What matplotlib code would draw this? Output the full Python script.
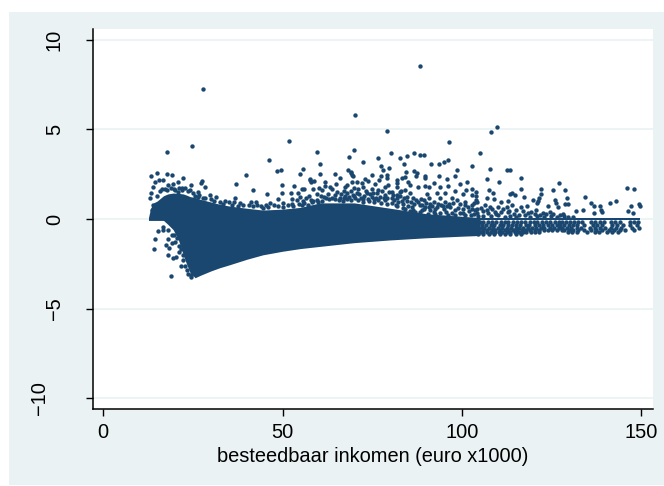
import matplotlib
matplotlib.use("Agg")
import matplotlib.pyplot as plt
from matplotlib.patches import Rectangle

plt.rcParams['font.family'] = ['Liberation Sans', 'DejaVu Sans']

NAVY = '#1a476f'
BG = '#eaf2f3'

x_ticks = [0, 50, 100, 150]
y_ticks = [-10, -5, 0, 5, 10]
x_label = 'besteedbaar inkomen (euro x1000)'

band_x = [12.6, 13.2, 14, 15, 16.8, 18, 19.5, 21, 22.3, 23, 24.2, 25.6, 27, 30, 32.5, 35.3, 40, 44.5, 50, 55, 60.4, 70, 80, 90, 100, 105]
band_low = [-.08, -.08, -.08, -.08, -.08, -.3, -.6, -1.2, -2.0, -2.4, -3.0, -3.28, -3.15, -2.9, -2.72, -2.55, -2.25, -2.0, -1.8, -1.65, -1.53, -1.32, -1.17, -1.05, -.96, -.92]
band_high = [.08, .6, .9, 1.0, 1.3, 1.4, 1.45, 1.43, 1.4, 1.35, 1.25, 1.2, 1.1, .95, .82, .72, .6, .5, .55, .65, .9, .9, .6, .3, .15, .08]

# Run of observations exactly at zero on the right
zero_x = [104, 149.8]
zero_low = [-.08, -.08]
zero_high = [.08, .08]

# Individually visible observations above the mass
upper_points = [
 (27.9,7.26),(70.2,5.83),(51.7,4.37),(24.7,4.08),(17.9,3.74),(59.6,3.72),(69.8,3.87),(68.4,3.46),(46.1,3.31),(76.6,3.39),
 (72.5,3.2),(60.5,3.05),(55.8,2.79),(48.5,2.68),(49.6,2.72),(54.9,2.53),(60.4,2.53),(64.6,2.5),(68.3,2.72),(69.1,2.55),
 (69.5,2.42),(74.9,2.46),(39.8,2.48),(15.1,2.57),(13.4,2.4),(17.8,2.5),(19.1,2.48),(22.3,2.31),(66,2.29),(57.7,2.22),(73,2.22),
 (88.4,8.55),(79,4.93),(109.7,5.12),(108.1,4.84),(96.5,4.28),(80.2,3.7),(86.6,3.67),(105,3.67),(84.8,3.52),(88.4,3.56),(89.3,3.56),
 (82.8,3.39),(96,3.31),(95,3.2),(91.3,3.09),(93.5,3.05),(83.9,3.07),(77.4,2.94),(77.9,2.75),(79.8,2.85),(102.8,2.96),(107.8,2.79),
 (98.7,2.74),(112.5,2.74),(113.4,2.72),(86.6,2.7),(87.5,2.59),(84.4,2.63),(89.7,2.42),(93.5,2.42),(98.2,2.4),(87.3,2.38),(77.5,2.38),
 (79,2.46),(83.3,2.29),(84.2,2.33),(79.1,2.27),(89.7,2.27),(116.5,2.29),(106.9,2.23),(95.8,2.22),(81.8,2.2),(76.8,2.18),
 (110.4,2.07),(127.1,1.99),(102.8,1.66),(104,1.53),(107.6,1.62),(108.8,1.47),(116.5,1.66),(122.1,1.66),(125.4,1.62),(128.7,1.6),
 (146.1,1.73),(147.9,1.69),(102.8,1.34),(104,1.3),(113.3,1.38),(114,1.44),(114.8,1.34),(122.1,1.4),(134.4,1.23),(106.9,1.16),(109,1.13),
 (117.2,1.21),(121.6,1.16),(119.9,1.08),(120.9,.91),(121.2,1.02),(126,1.06),(126.3,.91),(129.2,1.16),(128.8,.84),(129.7,.84),(142.9,1.01),
 (136,.88),(136.9,.73),(138.4,.71),(141.3,.88),(149.4,.82),(149.8,.73),(147.3,.74),(146.4,.46),(147.8,.35),(131.9,.45),(133.7,.52),
 (136.9,.32),(138.7,.5),(139.1,.37),(124,.73),(126.9,.69),(118.3,.73),(116.4,.65),(112.8,.99),(110.8,.97),(107.9,.65),(108.3,.54),
 (110.2,.69),(111.6,.54),(112.5,.65),(113.9,.78),(109.3,.41),(119.3,.37),(122.6,.32),(125.5,.26),(127.4,.22),(129.7,.13),(116,.21),
 (114.4,.28),(107.4,.35),(103.7,.5),(104.2,.35),(102.8,.78),(103.4,.91),(104.2,.93),
 (14.3,2.05),(15.6,2.18),(16.6,2.15),(27.6,2.13),(27.2,2.0),(28.4,1.77),(24.5,1.9),(26.5,1.53),(18.1,1.9),(19.5,1.94),(20.7,2.09),
 (14,1.81),(17.2,1.68),(20,1.62),(21.9,1.72),(22.8,1.75),(24.2,1.62),(13.3,1.44),(13,1.16),(13.8,.79),(13.5,.51),(29.8,1.34),(31.4,1.25),
 (27.9,1.16),(33.9,1.03),(26.5,1.25),(25.1,1.44),(20.9,1.53),
 (37,1.93),(41.8,1.62),(45.7,1.39),(49.7,1.88),(53.2,1.84),(49.9,1.45),(52.3,1.43),(55.3,1.67),(56,1.67),(48.6,1.13),(52.7,1.11),(54.4,1.43),
 (54.8,1.24),(53.9,1.06),(55.6,1.02),(57.6,2.17),(58.8,2.12),(57.8,2.04),(57.4,1.28),(58.5,1.65),(60.1,1.71),(59.7,1.39),(58.1,.93),(59.7,1.06),
 (36.6,1.15),(36.5,.96),(41.3,.96),(42.6,.96),(46.6,.91),(38.1,.87),(43.9,.72),(50.2,.87),(52.5,.83),(55.3,.78),(45.5,.78),
 (69,2.64),(69.4,2.45),(61.7,2.08),(64.8,1.93),(67.9,1.89),(69.3,2.04),(70.7,2.08),(73.7,2.12),(72.1,1.99),(75.8,1.93),(79.5,1.9),(81.8,2),
 (81.8,1.76),(61.8,1.84),(63.2,1.8),(63.9,1.65),(67.4,1.76),(67.1,1.58),(69.8,1.71),(71.1,1.65),(72.5,1.8),(74.9,1.65),(78.6,1.76),(76.7,1.62),
 (80.4,1.52),(82.8,1.52),(60.9,1.62),(67.9,1.43),(69.6,1.34),(71.4,1.39),(73.5,1.43),(76.3,1.43),(78.6,1.34),(81.8,1.34),(80.4,1.15),(76.7,1.06),
 (64.6,1.34),(74.9,1.24),(70.2,1.15),(72.5,.96),(78.6,1.06),(82.3,.96),(62,1.15),(65.8,1.05),(68,1.12),(73.8,1.1),(61,1.0),(66.8,.98),(75.5,.95),
 (85.1,2.08),(85.5,1.9),(87.9,1.76),(89.7,1.84),(92.1,2),(90.7,1.76),(93.9,1.76),(96.1,1.84),(99.5,1.95),(101.5,2.08),(84.2,1.62),(83,1.58),
 (93,1.47),(90.2,1.39),(95.3,1.47),(98.1,1.58),(101.2,1.62),(100.2,1.39),(85.5,1.43),(87.1,1.06),(89.5,1.06),(93.9,1.15),(97.2,1.15),(98.6,1.06),
 (92.1,.96),(95.3,.96),(100.9,.96),(104,1.06),(84.6,1.24),(90.7,1.15),(88.3,.78),(93,.68),(96.7,.68),(99,.59),(101.8,.65),(104.2,.54),(86,.68),
 (90.7,.68),(94.9,.54),(88.3,.4),(92.1,.4),(97.2,.35),(100.4,.31),(89.3,.54),(83.5,.85),(85,.7),(81.5,.8),(84,.55),(86.5,.5),(91,.5),(95.5,.4),
 # edge of the mass
 (15,1.3),(15.8,1.55),(16.5,1.7),(17.8,1.62),(18.8,1.75),(19.8,1.7),(21,1.75),(22,1.6),(23.5,1.55),(25.5,1.3),(26.8,1.35),(28.5,1.15),
 (30,1.1),(31,1.02),(32.5,.95),(33.5,.85),(35,.95),(36,.8),(37.5,.72),(39,.8),(40.5,.78),(41.8,.7),(43,.78),(44.5,.62),(46,.68),(47.5,.78),
 (48.8,.72),(50,.68),(51.5,.8),(53,.72),(54.5,.85),(56,.9),(57,.78),(58.5,.98),(60,.95),(61.5,1.25),(63,1.1),(64.5,1.12),(66,1.2),(67.5,1.3),
 (69,1.05),(71,1.05),(72.5,1.12),(74,1.0),(75.5,1.1),(77.5,.9),(79,.85),(80.5,.9),(82,.7),(83.5,.62),(85.5,.42),(87,.38),(88.8,.52),(90.5,.3),
 (92.5,.28),(94,.32),(96,.25),(98,.22),(99.5,.35),(101,.2),(102.5,.22),(104.5,.18),(106,.15),(108,.15),(110,.22),(112,.12),(113.5,.15),(115,.12),
 (117.5,.2),(119,.12),(121,.15),(123,.12),(124.8,.18),(126.5,.12),(128.5,.15),(131,.12),
 # crowded zone just above the mass, middle of the income range
 (56.5,1.15),(57.8,1.05),(60.8,1.28),(62.8,1.38),(63.8,1.2),(65.3,1.5),(66.2,1.38),(67,1.2),(68.4,1.22),(69,1.55),(70,1.3),(70.8,1.45),
 (71.8,1.2),(72.8,1.3),(73.2,1.55),(74.3,1.38),(75.2,1.45),(76,1.2),(77.3,1.22),(77.8,1.55),(78.2,1.15),(79.2,1.2),(79.6,1.48),(80.8,1.35),
 (81.2,1.05),(82,1.15),(82.8,1.28),(83.2,1.0),(83.8,1.18),(84.8,1.0),(85.8,.95),(86.3,1.18),(86.6,.85),(87.8,.95),(88.5,1.12),(89,.8),
 (89.6,.68),(90,.92),(91.2,.85),(91.8,.72),(92.6,.58),(93.4,.85),(94.3,.8),(94.8,.72),(95.8,.72),(96.3,.85),(97.6,.88),(98.2,.5),(99.5,.82),
 (100.2,.55),(101,.78),(102,.42),(102.8,.55),(103.3,.3),(105.2,.62),(105.8,.42),(106.4,.78),(107,.5),(109.6,.28),(111,.38),(112.8,.38),
 (113.2,.45),(115.2,.48),(117,.42),(118.4,.32),(120.4,.3),(120.8,.48),(121.8,.22),(123.5,.28),(124.5,.38),(128.2,.3),
]

# Individually visible observations left of and below the mass
lower_points = [
 (18.8,-3.21),(14.1,-1.66),(14.4,-1.14),(15.3,-.66),(16.7,-.62),(17.4,-1.47),(18.1,-2.01),(19.5,-2.16),(20.3,-2.14),(21.6,-2.61),(21.2,-1.87),
 (18.3,-1.64),(19.1,-1.36),(18,-1.14),(20,-1.27),(16.7,-.43),(18.1,-.62),(19.1,-.9),(22.3,-2),(24.5,-3.22),(23.3,-2.85),
 (19.8,-.9),(20.5,-1.05),(21,-1.5),(21.8,-1.7),(22.2,-2.3),(22.8,-2.6),(23.6,-3.05),(24.4,-3.15),
]

# Rows of observations in the sparse right-hand strip below zero
strip_rows = {
 -.15: [104, 105, 106, 107.2, 108.5, 109.5, 111, 112, 113, 114.2, 115.5, 116.5, 117.5, 119, 120, 121, 122.3, 123.5, 124.5, 126, 127,
        128, 129, 130.2, 131.3, 132.5, 133.5, 136, 137.2, 138.5, 139.5, 141.5, 142.8, 144.2, 146.8, 148, 149.2],
 -.32: [104.5, 105.5, 106.8, 108, 109, 110.5, 111.5, 113, 114, 115, 116.3, 117.8, 118.8, 120.5, 121.5, 122.5, 124, 125, 126.5, 127.5,
        128.5, 129.8, 131, 132.2, 134, 136.5, 137.8, 139, 142, 143.3, 145, 147, 148.8],
 -.48: [104, 105.2, 106.3, 107.5, 108.8, 110, 111.3, 112.5, 113.7, 115, 116, 117, 118.5, 119.5, 120.8, 122, 123, 124.5, 125.7, 127,
        128, 129.2, 130.5, 132, 133.3, 135.8, 137, 138.5, 140, 141.6, 143, 144.5, 147.5, 149.5],
 -.63: [104.5, 106, 107, 108.3, 109.3, 110.5, 112, 113, 114.3, 115.5, 116.8, 118, 119, 120.3, 121.5, 122.8, 124, 125.2, 126.5, 127.8,
        128.5, 130, 131, 132.5, 134, 136, 137.5, 139, 141, 142.5, 144, 145.5, 148],
 -.75: [104, 105, 106, 107, 108, 109.2, 110.3, 111.3, 112.5, 113.5, 114.8, 116, 117, 118, 119.2, 120.5, 121.5,
        129.5, 130.7, 132, 135, 137, 138.2, 140.5, 142, 143.5],
 -.84: [104.5, 106, 107.5, 109, 110.5, 112, 113.5, 115, 116.5],
}

fig = plt.figure(figsize=(6.64, 4.86), dpi=100, facecolor='white')
fig.add_artist(Rectangle((9 / 664, 1 / 486), 655 / 664, 473 / 486, transform=fig.transFigure,
                         facecolor=BG, edgecolor='none', zorder=-10))

ax = fig.add_axes([93 / 664, 77 / 486, 560 / 664, 380 / 486], facecolor='white')
ax.set_xlim(-2.87, 153.3)
ax.set_ylim(-10.61, 10.61)

ax.yaxis.grid(True, color=BG, lw=1.2, zorder=0)
ax.xaxis.grid(False)
ax.set_axisbelow(True)

ax.fill_between(band_x, band_low, band_high, color=NAVY, lw=0, zorder=3)
ax.fill_between(zero_x, zero_low, zero_high, color=NAVY, lw=0, zorder=3)

pts = upper_points + lower_points
px = [p[0] for p in pts]
py = [p[1] for p in pts]
ax.scatter(px, py, s=10, color=NAVY, linewidths=0, zorder=4)
for ry, rxs in strip_rows.items():
    ax.scatter(rxs, [ry] * len(rxs), s=10, color=NAVY, linewidths=0, zorder=4)

for s in ('top', 'right'):
    ax.spines[s].set_visible(False)
for s in ('left', 'bottom'):
    ax.spines[s].set_linewidth(1.1)
    ax.spines[s].set_color('black')

ax.set_xticks(x_ticks)
ax.set_yticks(y_ticks)
ax.tick_params(axis='x', length=5, width=1, labelsize=14.4, pad=5)
ax.tick_params(axis='y', length=5, width=1, labelsize=14.4, pad=16)
for lab in ax.get_yticklabels():
    lab.set_rotation(90)
    lab.set_va('center')
ax.yaxis.get_major_ticks()[0].set_pad(27)
ax.set_xlabel(x_label, fontsize=14.4, labelpad=4)

fig.savefig('out.png', dpi=100)
